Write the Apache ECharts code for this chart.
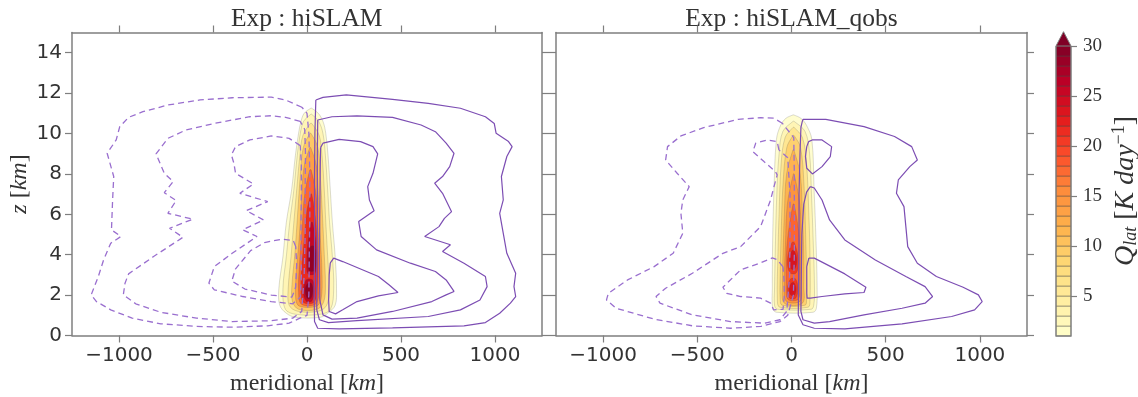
<!DOCTYPE html>
<html><head><meta charset="utf-8">
<script src="https://cdn.jsdelivr.net/npm/echarts@6/dist/echarts.min.js"></script>
<style>html,body{margin:0;padding:0;background:#fff}#c{width:1138px;height:397px}</style>
</head><body><div id="c"></div>
<script>
// ---------- ticks / labels ----------
const xTicks = [-1000, -500, 0, 500, 1000];
const zTicks = [0, 2, 4, 6, 8, 10, 12, 14];
const cbTicks = [5, 10, 15, 20, 25, 30];
const cbLevels = [1,2,3,4,5,6,7,8,9,10,11,12,13,14,15,16,17,18,19,20,21,22,23,24,25,26,27,28,29,30];
const titles = ['Exp : hiSLAM', 'Exp : hiSLAM_qobs'];

// ---------- Q_lat filled contours: rows [z, xLeft, xRight] ----------
const qLeftLevels = [1, 3, 6, 10, 14, 18, 22, 26, 26, 29, 29];
const qLeftShapes = [
  [[0.9,-60,70],[1.1,-110,110],[1.5,-145,150],[2.3,-150,157],[3.9,-128,150],[5.6,-110,135],[7.2,-82,124],[8.9,-62,112],[10.0,-45,100],[10.6,-32,85],[11.0,-15,60],[11.25,20,25]],
  [[1.05,-60,70],[1.3,-115,125],[2.3,-128,142],[3.9,-110,135],[5.6,-92,120],[7.2,-70,110],[8.9,-52,98],[10.0,-36,85],[10.6,-18,62],[10.95,20,25]],
  [[1.2,-50,60],[1.5,-95,105],[2.3,-100,118],[3.9,-85,110],[5.6,-70,100],[7.2,-55,92],[8.9,-38,80],[9.9,-22,65],[10.5,18,25]],
  [[1.3,-45,55],[1.7,-78,90],[2.5,-80,98],[4,-65,92],[6,-50,82],[8,-35,70],[9.3,-20,58],[10.0,15,22]],
  [[1.45,-40,50],[1.8,-60,75],[3,-58,80],[5,-40,70],[7,-28,60],[8.4,-15,50],[9.3,15,20]],
  [[1.55,-30,45],[2.2,-45,65],[3.5,-40,65],[5.5,-25,58],[7,-12,48],[8.2,15,22]],
  [[1.65,-20,38],[2.4,-32,55],[3.4,-28,58],[5,-12,52],[6.2,0,40],[7.0,20,25]],
  [[1.7,-5,25],[2.2,-20,42],[2.75,-5,30]],
  [[3.05,5,40],[3.6,-2,52],[4.6,5,48],[5.6,22,30]],
  [[1.85,0,22],[2.3,-10,32],[2.6,5,22]],
  [[3.2,12,38],[3.7,8,46],[4.4,18,40]]
];
const qRightLevels = [1, 3, 6, 9, 12, 15, 18, 21, 21, 24, 24];
const qRightShapes = [
  [[1.15,-80,115],[1.35,-100,132],[2.3,-102,136],[4.7,-100,130],[7.2,-93,120],[9.7,-80,108],[10.4,-58,80],[10.75,-30,50],[10.92,8,12]],
  [[1.3,-75,105],[1.5,-90,118],[2.3,-90,122],[4.7,-85,115],[7.0,-78,106],[9.0,-66,96],[10.1,-46,72],[10.6,8,14]],
  [[1.4,-62,88],[1.7,-75,98],[4,-72,98],[6,-66,92],[8.5,-55,80],[9.8,-34,58],[10.3,8,14]],
  [[1.5,-50,72],[1.8,-60,80],[3,-60,80],[5,-55,75],[7.5,-45,66],[9.3,-25,48],[9.9,8,14]],
  [[1.6,-38,58],[2.5,-48,65],[4,-45,65],[6,-38,58],[8,-26,46],[9.2,8,12]],
  [[1.7,-28,45],[2.5,-38,52],[4.5,-32,52],[6.5,-22,44],[8.0,10,14]],
  [[1.8,-20,36],[2.5,-28,42],[3.8,-28,45],[5,-18,40],[6.5,8,14]],
  [[1.85,-10,22],[2.3,-22,34],[2.8,-5,22]],
  [[3.1,-8,25],[3.7,-22,38],[4.6,2,15]],
  [[2.0,-4,16],[2.3,-12,24],[2.6,0,14]],
  [[3.3,-2,18],[3.75,-10,28],[4.2,2,14]]
];

// ---------- streamfunction contours [x km, z km] ----------
const leftNeg1 = [[-27,11.3],[-114,11.66],[-190,11.8],[-398,11.77],[-569,11.66],[-740,11.41],[-873,11.08],[-949,10.8],[-996,10.34],[-1015,9.68],[-1063,9.02],[-1028,7.87],[-1034,6.71],[-1040,5.23],[-990,4.9],[-1044,4.57],[-1082,3.74],[-1110,2.92],[-1148,2.01],[-1120,1.68],[-1044,1.27],[-930,0.86],[-778,0.58],[-588,0.45],[-398,0.41],[-209,0.48],[-95,0.61],[-38,0.86],[0,1.0],[10,2],[12,4],[15,6],[15,8],[10,10],[0,11.0],[-27,11.3]];
const leftNeg2 = [[-36,10.6],[-114,10.8],[-190,10.88],[-304,10.83],[-493,10.5],[-645,10.17],[-740,9.76],[-803,8.99],[-759,8.03],[-712,7.62],[-759,7.07],[-696,6.68],[-740,6.05],[-607,5.76],[-731,5.31],[-660,4.86],[-816,3.91],[-949,3.05],[-968,2.59],[-977,2.01],[-911,1.57],[-778,1.15],[-588,0.86],[-398,0.69],[-190,0.73],[-76,0.86],[-28,1.19],[-15,3],[-10,5],[-10,7],[-8,9],[-12,10.2],[-36,10.6]];
const leftNeg3 = [[-36,9.4],[-95,9.76],[-190,9.88],[-304,9.68],[-380,9.35],[-402,8.94],[-389,8.53],[-380,8.03],[-285,7.50],[-357,7.04],[-209,6.63],[-323,6.18],[-231,5.72],[-342,5.23],[-266,4.90],[-398,4.07],[-493,3.41],[-522,2.59],[-493,2.26],[-342,1.93],[-190,1.68],[-76,1.57],[-35,1.9],[-30,3],[-32,5],[-30,7],[-30,8.5],[-36,9.4]];
const leftNeg4 = [[-60,4.4],[-73,4.7],[-133,4.77],[-226,4.6],[-300,4.2],[-380,3.3],[-400,2.7],[-330,2.3],[-190,2.0],[-80,1.9],[-60,2.4],[-55,3.5],[-60,4.4]];
const leftPos1 = [[47,11.66],[85,11.79],[209,11.91],[455,11.69],[645,11.49],[816,11.25],[949,10.83],[996,10.5],[1006,10.01],[1072,9.6],[1091,9.35],[1063,8.86],[1034,7.87],[1044,6.71],[1025,6.05],[1044,5.06],[1063,4.07],[1110,3.08],[1101,2.42],[1110,1.93],[1082,1.6],[1025,1.1],[949,0.64],[835,0.48],[455,0.38],[171,0.33],[57,0.36],[40,0.69],[38,2],[40,4],[40,6],[40,8],[42,10],[47,11.66]];
const leftPos2 = [[57,10.67],[133,10.83],[266,10.87],[455,10.8],[607,10.42],[683,10.09],[740,9.52],[782,9.02],[759,8.36],[721,7.87],[679,7.54],[721,7.04],[769,6.13],[731,5.8],[702,5.39],[626,4.9],[763,4.49],[721,4.16],[835,3.58],[949,2.92],[958,2.42],[920,1.76],[816,1.27],[645,0.94],[266,0.74],[114,0.64],[66,0.78],[52,1.27],[52,3],[55,5],[55,7],[55,9],[57,10.67]];
const leftPos3 = [[72,9.3],[85,9.52],[171,9.71],[285,9.6],[351,9.35],[376,8.99],[351,8.03],[323,7.37],[332,6.71],[357,6.18],[275,5.64],[288,4.9],[370,4.24],[550,3.58],[683,3.17],[740,2.75],[782,2.18],[740,2.01],[664,1.68],[455,1.19],[266,0.86],[133,0.81],[85,1.02],[68,1.76],[66,4],[68,6],[70,8],[72,9.3]];
const leftPos4 = [[124,3.6],[142,3.83],[190,3.66],[380,2.92],[436,2.51],[484,2.13],[380,1.96],[266,1.68],[190,1.27],[152,1.07],[118,1.19],[115,1.76],[118,3],[124,3.6]];

const rightNeg1 = [[-49,10.51],[-93,10.76],[-162,10.78],[-283,10.7],[-466,10.29],[-587,9.88],[-658,9.35],[-668,8.69],[-607,8.03],[-543,7.37],[-577,6.71],[-587,6.05],[-577,5.06],[-628,4.07],[-729,3.41],[-870,2.75],[-972,2.09],[-982,1.76],[-931,1.35],[-729,0.81],[-526,0.48],[-324,0.36],[-162,0.45],[-61,0.69],[-20,1.0],[10,2],[15,4],[15,6],[15,8],[12,9.8],[-49,10.51]];
const rightNeg2 = [[-67,9.19],[-76,9.6],[-129,9.68],[-190,9.52],[-205,9.1],[-146,8.61],[-85,8.11],[-76,7.95],[-93,7.37],[-111,6.71],[-164,5.39],[-270,4.4],[-364,4.07],[-526,3.08],[-668,2.34],[-719,1.93],[-698,1.6],[-526,1.02],[-324,0.69],[-142,0.61],[-61,0.78],[-25,1.2],[-10,3],[-8,5],[-8,7],[-20,8.8],[-67,9.19]];
const rightNeg3 = [[-45,3.4],[-76,3.75],[-102,3.84],[-164,3.6],[-270,3.25],[-364,2.39],[-344,2.09],[-270,1.93],[-164,1.85],[-111,1.6],[-95,1.27],[-45,1.3],[-38,2],[-40,2.8],[-45,3.4]];
const rightPos1 = [[57,10.59],[61,10.7],[182,10.7],[385,10.34],[547,9.85],[638,9.35],[668,8.69],[628,8.36],[567,7.70],[557,7.04],[597,6.38],[607,5.39],[617,4.4],[668,3.58],[769,2.92],[911,2.39],[992,2.01],[1012,1.68],[972,1.27],[850,0.94],[587,0.58],[283,0.33],[121,0.36],[61,0.53],[36,1.02],[38,3],[40,5],[40,7],[45,9],[50,10.3],[57,10.59]];
const rightPos2 = [[91,9.6],[110,9.68],[162,9.68],[213,9.35],[206,8.86],[162,8.36],[111,8.0],[81,8.28],[74,8.86],[81,9.35],[91,9.6]];
const rightPos3 = [[100,7.37],[121,7.3],[162,6.71],[202,5.72],[283,4.73],[445,3.74],[607,2.92],[709,2.42],[749,1.93],[709,1.6],[587,1.35],[385,1.02],[202,0.69],[121,0.61],[61,0.78],[50,1.19],[52,3],[55,5],[65,6.5],[80,7.1],[100,7.37]];
const rightPos4 = [[92,3.83],[121,3.83],[283,3.05],[395,2.39],[385,2.13],[283,2.06],[162,1.93],[101,1.85],[83,1.85],[81,2.09],[81,3.41],[92,3.83]];

// ---------- styling helpers ----------
const YLORRD = ['#ffffcc','#ffeda0','#fed976','#feb24c','#fd8d3c','#fc4e2a','#e31a1c','#bd0026','#800026'];
function hex2rgb(h){return [parseInt(h.slice(1,3),16),parseInt(h.slice(3,5),16),parseInt(h.slice(5,7),16)];}
function cmap(t){
  t = Math.max(0, Math.min(1, t));
  const p = t * (YLORRD.length - 1), i = Math.min(Math.floor(p), YLORRD.length - 2), f = p - i;
  const a = hex2rgb(YLORRD[i]), b = hex2rgb(YLORRD[i+1]);
  return 'rgb(' + a.map((v,k)=>Math.round(v + (b[k]-v)*f)).join(',') + ')';
}
const qMin = cbLevels[0], qMax = cbLevels[cbLevels.length-1];
function levelColor(l){ return cmap((l - qMin + 0.5) / (qMax - qMin)); }
function rowsToPts(rows){
  const right = rows.map(r => [r[2], r[0]]);
  const left = rows.slice().reverse().map(r => [r[1], r[0]]);
  return right.concat(left);
}
const AX = '#7f7f7f';
const SANS = 'DejaVu Sans';
const SERIF = 'Liberation Serif';
function fmt(v){ return v < 0 ? '\u2212' + Math.abs(v) : String(v); }

function fillSeries(xi, yi, levels, shapes){
  return {
    type: 'custom', xAxisIndex: xi, yAxisIndex: yi, silent: true, z: 2, clip: true,
    data: levels.map((l, i) => [i, l]),
    renderItem: function(params, api){
      const i = params.dataIndex;
      const pts = rowsToPts(shapes[i]).map(p => api.coord(p));
      return {type: 'polygon', shape: {points: pts, smooth: 0.35},
        style: {fill: levelColor(levels[i]), opacity: 0.82, stroke: 'rgba(70,70,70,0.3)', lineWidth: 0.8}};
    }
  };
}
function contour(xi, yi, pts, dashed){
  return {type: 'line', xAxisIndex: xi, yAxisIndex: yi, data: pts, showSymbol: false, symbol: 'none',
    silent: true, z: 5, animation: false,
    lineStyle: dashed ? {color: '#9a6fcf', width: 1.3, type: [6, 4]} : {color: '#7c4db3', width: 1.2}};
}

function xAxisPair(gi){
  const base = {gridIndex: gi, type: 'value', min: -1250, max: 1250, splitLine: {show: false},
    axisLine: {show: true, onZero: false, lineStyle: {color: AX, width: 1.5}},
    axisTick: {show: true, inside: false, length: 7, customValues: xTicks, lineStyle: {color: AX, width: 1.2}}};
  return [
    Object.assign({}, base, {position: 'bottom',
      axisLabel: {show: true, customValues: xTicks, formatter: fmt, fontFamily: SANS, fontSize: 20, color: '#333', margin: 10},
      name: '{r|meridional [}{i|km}{r|]}', nameLocation: 'middle', nameGap: 36,
      nameTextStyle: {fontFamily: SERIF, fontSize: 24, color: '#333',
        rich: {r: {fontFamily: SERIF, fontSize: 24, color: '#333'}, i: {fontFamily: SERIF, fontSize: 24, fontStyle: 'italic', color: '#333'}}}}),
    Object.assign({}, base, {position: 'top', axisLabel: {show: false}})
  ];
}
function yAxisPair(gi, withLabels){
  const base = {gridIndex: gi, type: 'value', min: 0, max: 15, splitLine: {show: false},
    axisLine: {show: true, onZero: false, lineStyle: {color: AX, width: 1.5}},
    axisTick: {show: true, inside: false, length: 7, customValues: zTicks, lineStyle: {color: AX, width: 1.2}}};
  const left = Object.assign({}, base, {position: 'left',
    axisLabel: withLabels ? {show: true, customValues: zTicks, fontFamily: SANS, fontSize: 20, color: '#333', margin: 10} : {show: false}});
  if (withLabels) {
    Object.assign(left, {name: '{i|z} [{i|km}]', nameLocation: 'middle', nameGap: 40, nameRotate: 90,
      nameTextStyle: {fontFamily: SERIF, fontSize: 24, color: '#333',
        rich: {i: {fontFamily: SERIF, fontSize: 24, fontStyle: 'italic', color: '#333'}}}});
  }
  return [left, Object.assign({}, base, {position: 'right', axisLabel: {show: false}})];
}

const option = {
  animation: false,
  backgroundColor: '#fff',
  grid: [
    {left: 72, top: 32.5, width: 470, height: 303, containLabel: false, outerBoundsMode: 'none'},
    {left: 556, top: 32.5, width: 471, height: 303, containLabel: false, outerBoundsMode: 'none'},
    {left: 1056, top: 46, width: 15, height: 290, containLabel: false, outerBoundsMode: 'none'}
  ],
  xAxis: [].concat(xAxisPair(0), xAxisPair(1), [{gridIndex: 2, type: 'value', min: 0, max: 1, show: false}]),
  yAxis: [].concat(yAxisPair(0, true), yAxisPair(1, false), [{
    gridIndex: 2, type: 'value', min: qMin, max: qMax, position: 'right', splitLine: {show: false},
    axisLine: {show: false, onZero: false},
    axisTick: {show: true, inside: false, length: 6, customValues: cbTicks, lineStyle: {color: AX, width: 1.2}},
    axisLabel: {show: true, customValues: cbTicks, fontFamily: SERIF, fontSize: 19, color: '#333', margin: 12},
    name: '{i|Q}{sub|lat} [{i|K day}{sup|\u22121}]', nameLocation: 'middle', nameRotate: 90, nameGap: 39,
    nameTextStyle: {fontFamily: SERIF, fontSize: 28, color: '#333',
      rich: {i: {fontFamily: SERIF, fontSize: 28, fontStyle: 'italic', color: '#333'},
             sub: {fontFamily: SERIF, fontSize: 18, fontStyle: 'italic', color: '#333', padding: [11, 0, 0, 0]},
             sup: {fontFamily: SERIF, fontSize: 18, color: '#333', padding: [0, 0, 14, 0]}}}
  }]),
  graphic: [
    {type: 'text', x: 306.7, y: 19.5, silent: true, style: {text: titles[0], font: '25.5px "Liberation Serif"', fill: '#333', align: 'center', verticalAlign: 'middle', textAlign: 'center', textVerticalAlign: 'middle'}},
    {type: 'text', x: 791.5, y: 19.5, silent: true, style: {text: titles[1], font: '25.5px "Liberation Serif"', fill: '#333', align: 'center', verticalAlign: 'middle', textAlign: 'center', textVerticalAlign: 'middle'}}
  ],
  series: [
    fillSeries(0, 0, qLeftLevels, qLeftShapes),
    fillSeries(2, 2, qRightLevels, qRightShapes),
    contour(0, 0, leftNeg1, true), contour(0, 0, leftNeg2, true), contour(0, 0, leftNeg3, true), contour(0, 0, leftNeg4, true),
    contour(0, 0, leftPos1, false), contour(0, 0, leftPos2, false), contour(0, 0, leftPos3, false), contour(0, 0, leftPos4, false),
    contour(2, 2, rightNeg1, true), contour(2, 2, rightNeg2, true), contour(2, 2, rightNeg3, true),
    contour(2, 2, rightPos1, false), contour(2, 2, rightPos2, false), contour(2, 2, rightPos3, false), contour(2, 2, rightPos4, false),
    {
      type: 'custom', xAxisIndex: 4, yAxisIndex: 4, silent: true, clip: false, z: 3,
      data: cbLevels.map((l, i) => [0.5, l]),
      renderItem: function(params, api){
        const i = params.dataIndex;
        if (i < cbLevels.length - 1) {
          const p0 = api.coord([0, cbLevels[i]]), p1 = api.coord([1, cbLevels[i+1]]);
          return {type: 'rect', shape: {x: p0[0], y: p1[1], width: p1[0]-p0[0], height: p0[1]-p1[1]},
            style: {fill: levelColor(cbLevels[i]), stroke: 'rgba(70,70,70,0.55)', lineWidth: 0.8}};
        }
        const a = api.coord([0, qMax]), b = api.coord([1, qMax]), bot = api.coord([0, qMin]);
        const tip = [(a[0]+b[0])/2, a[1] - 14.3];
        return {type: 'group', children: [
          {type: 'polygon', shape: {points: [a, b, tip]}, style: {fill: '#800026', stroke: AX, lineWidth: 1}},
          {type: 'polyline', shape: {points: [a, [a[0], bot[1]], [b[0], bot[1]], b]}, style: {fill: null, stroke: AX, lineWidth: 1.3}}
        ]};
      }
    }
  ]
};
const chart = echarts.init(document.getElementById('c'), null, {renderer: 'canvas'});
chart.setOption(option);
</script>
</body></html>
